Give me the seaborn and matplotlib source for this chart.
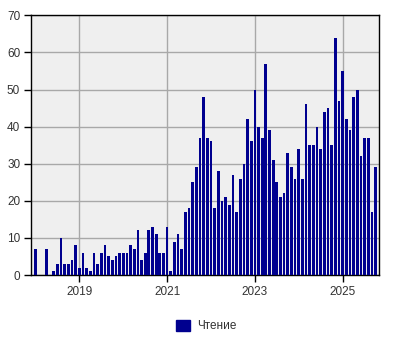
import matplotlib
matplotlib.use("Agg")
import matplotlib.pyplot as plt
import seaborn as sns
import pandas as pd
from matplotlib.patches import Patch

years = [2018, 2019, 2020, 2021, 2022, 2023, 2024, 2025]
v2018 = [7, 0, 0, 7, 0, 1, 3, 10, 3, 3, 4, 8]
v2019 = [2, 6, 2, 1, 6, 3, 6, 8, 5, 4, 5, 6]
v2020 = [6, 6, 8, 7, 12, 4, 6, 12, 13, 11, 6, 6]
v2021 = [13, 1, 9, 11, 7, 17, 18, 25, 29, 37, 48, 37]
v2022 = [36, 18, 28, 20, 21, 19, 27, 17, 26, 30, 42, 36]
v2023 = [50, 40, 37, 57, 39, 31, 25, 21, 22, 33, 29, 26]
v2024 = [34, 26, 46, 35, 35, 40, 34, 44, 45, 35, 64, 47]
v2025 = [55, 42, 39, 48, 50, 32, 37, 37, 17, 29]
series_label = "Чтение"
tick_years = ["2019", "2021", "2023", "2025"]

values = v2018 + v2019 + v2020 + v2021 + v2022 + v2023 + v2024 + v2025
months = []
for y, vals in zip(years, [v2018, v2019, v2020, v2021, v2022, v2023, v2024, v2025]):
    for m in range(len(vals)):
        months.append(f"{y}-{m + 1:02d}")
df = pd.DataFrame({"month": months, "value": values})

sns.set_theme(style="white")
plt.rcParams["font.family"] = ["Liberation Sans", "DejaVu Sans"]

bar_color = "#00008f"
text_color = "#333333"

fig = plt.figure(figsize=(4, 3.5), dpi=100)
ax = fig.add_axes([31.3 / 400, 1 - 275 / 350, (379 - 31.3) / 400, (275 - 15.3) / 350])
ax.set_facecolor("#efefef")

sns.barplot(data=df, x="month", y="value", color=bar_color, width=0.74,
            saturation=1, ax=ax, zorder=3, linewidth=0, edgecolor=bar_color)

ax.set_xlim(-1.15, len(values) - 1 + 0.95)
ax.set_ylim(0, 70)
ax.set_yticks(range(0, 71, 10))
tick_pos = [months.index(f"{t}-01") for t in tick_years]
ax.set_xticks(tick_pos)
ax.set_xticklabels(tick_years)
ax.set_xlabel("")
ax.set_ylabel("")

ax.grid(True, color="#a8a8a8", linewidth=1, zorder=0)
ax.set_axisbelow(True)
for s in ax.spines.values():
    s.set_visible(True)
    s.set_color("black")
    s.set_linewidth(1)
ax.tick_params(axis="both", which="major", length=5, width=1, color="black",
               labelsize=8.5, labelcolor=text_color, pad=3, direction="out",
               bottom=True, left=True)

handle = Patch(facecolor=bar_color, edgecolor=bar_color)
fig.legend([handle], [series_label], loc="center", bbox_to_anchor=(0.516, 0.069),
           frameon=False, fontsize=8.5, labelcolor=text_color,
           handlelength=1.2, handleheight=1.1, handletextpad=0.6)

fig.savefig("out.png", dpi=100)
